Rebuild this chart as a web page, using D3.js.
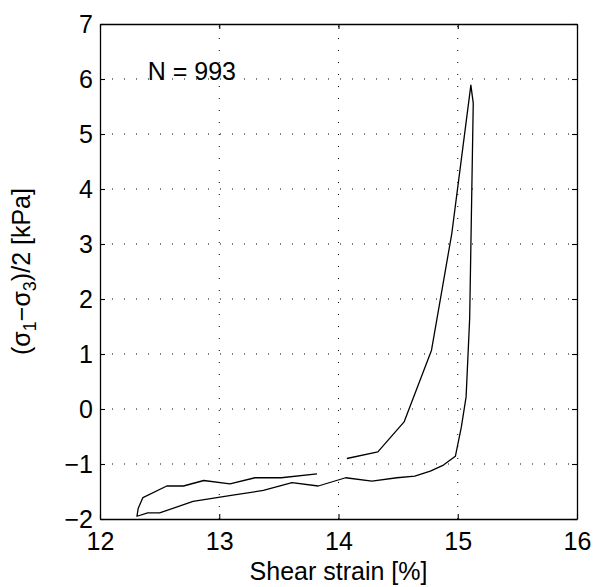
<!DOCTYPE html>
<html>
<head>
<meta charset="utf-8">
<script src="https://cdn.jsdelivr.net/npm/d3@7"></script>
<style>
  body { margin: 0; background: #fff; }
  text { font-family: "Liberation Sans", Arial, Helvetica, sans-serif; fill: #000; }
</style>
</head>
<body>
<svg id="chart"></svg>
<script>
// shear strain [%] along the loop, in drawing order
strain = [14.07, 14.33, 14.55, 14.78, 14.95, 15.11, 15.13, 15.10, 15.07, 15.03,
          14.98, 14.88, 14.77, 14.64, 14.49, 14.28, 14.06, 13.83, 13.61, 13.37,
          13.10, 12.78, 12.50, 12.40, 12.31, 12.32, 12.36, 12.56, 12.70, 12.87,
          13.09, 13.30, 13.52, 13.82];
// (s1-s3)/2 [kPa]
stress = [-0.90, -0.78, -0.235, 1.07, 3.19, 5.89, 5.56, 1.65, 0.22, -0.33,
          -0.86, -1.02, -1.13, -1.22, -1.25, -1.31, -1.25, -1.40, -1.34, -1.48,
          -1.57, -1.68, -1.89, -1.89, -1.95, -1.81, -1.61, -1.40, -1.40, -1.30,
          -1.36, -1.25, -1.25, -1.18];
xTicks = [12, 13, 14, 15, 16];
yTicks = [-2, -1, 0, 1, 2, 3, 4, 5, 6, 7];
cycleLabel = "N = 993";

let width = 598,
    height = 587;
let margin = {top: 24, right: 21, bottom: 68, left: 100};
let w = width - margin.left - margin.right,
    h = height - margin.top - margin.bottom;

let svg = d3.select("#chart").attr("width", width).attr("height", height);
let g = svg.append("g").attr("transform", `translate(${margin.left},${margin.top})`);

let x = d3.scaleLinear().domain([12, 16]).range([0, w]);
let y = d3.scaleLinear().domain([-2, 7]).range([h, 0]);

let fmt = d => (d < 0 ? "\u2212" + Math.abs(d) : "" + d);

// dotted grid
g.append("g").selectAll("line")
    .data(xTicks.slice(1, -1))
    .join("line")
    .attr("x1", d => x(d)).attr("x2", d => x(d))
    .attr("y1", h).attr("y2", 0)
    .attr("stroke", "#000")
    .attr("stroke-width", 1)
    .attr("stroke-dasharray", "1,11");
g.append("g").selectAll("line")
    .data(yTicks.slice(1, -1))
    .join("line")
    .attr("x1", 0).attr("x2", w)
    .attr("y1", d => y(d)).attr("y2", d => y(d))
    .attr("stroke", "#000")
    .attr("stroke-width", 1)
    .attr("stroke-dasharray", "1,11");

// axes with inward ticks on all four sides
let tl = 5;
g.append("g").attr("transform", `translate(0,${h})`)
    .call(d3.axisBottom(x).tickValues(xTicks).tickSizeInner(-tl).tickSizeOuter(0).tickPadding(13).tickFormat(fmt));
g.append("g")
    .call(d3.axisLeft(y).tickValues(yTicks).tickSizeInner(-tl).tickSizeOuter(0).tickPadding(7).tickFormat(fmt));
g.append("g")
    .call(d3.axisTop(x).tickValues(xTicks).tickSizeInner(-tl).tickSizeOuter(0).tickFormat(""));
g.append("g").attr("transform", `translate(${w},0)`)
    .call(d3.axisRight(y).tickValues(yTicks).tickSizeInner(-tl).tickSizeOuter(0).tickFormat(""));

g.selectAll(".domain").attr("stroke", "#000").attr("stroke-width", 1.3);
g.selectAll(".tick line").attr("stroke", "#000").attr("stroke-width", 1.1);
g.selectAll(".tick text")
    .attr("font-size", "25px")
    .attr("font-family", "'Liberation Sans', Arial, sans-serif");

// curve
let line = d3.line()
    .x((d, i) => x(strain[i]))
    .y((d, i) => y(stress[i]));
g.append("path")
    .datum(strain)
    .attr("d", line)
    .attr("fill", "none")
    .attr("stroke", "#000")
    .attr("stroke-width", 1.3)
    .attr("stroke-linejoin", "round");

// annotation
g.append("text")
    .attr("x", x(12.4))
    .attr("y", y(5.98))
    .attr("font-size", "25px")
    .text(cycleLabel);

// axis titles
svg.append("text")
    .attr("x", margin.left + w / 2)
    .attr("y", 580)
    .attr("text-anchor", "middle")
    .attr("font-size", "25px")
    .text("Shear strain [%]");

let yt = svg.append("text")
    .attr("transform", `translate(30,${margin.top + h / 2}) rotate(-90)`)
    .attr("text-anchor", "middle")
    .attr("font-size", "25px");
yt.append("tspan").text("(\u03C3");
yt.append("tspan").attr("font-size", "18px").attr("dy", 6).text("1");
yt.append("tspan").attr("dy", -6).text("\u2212\u03C3");
yt.append("tspan").attr("font-size", "18px").attr("dy", 6).text("3");
yt.append("tspan").attr("dy", -6).text(")/2 [kPa]");
</script>
</body>
</html>
